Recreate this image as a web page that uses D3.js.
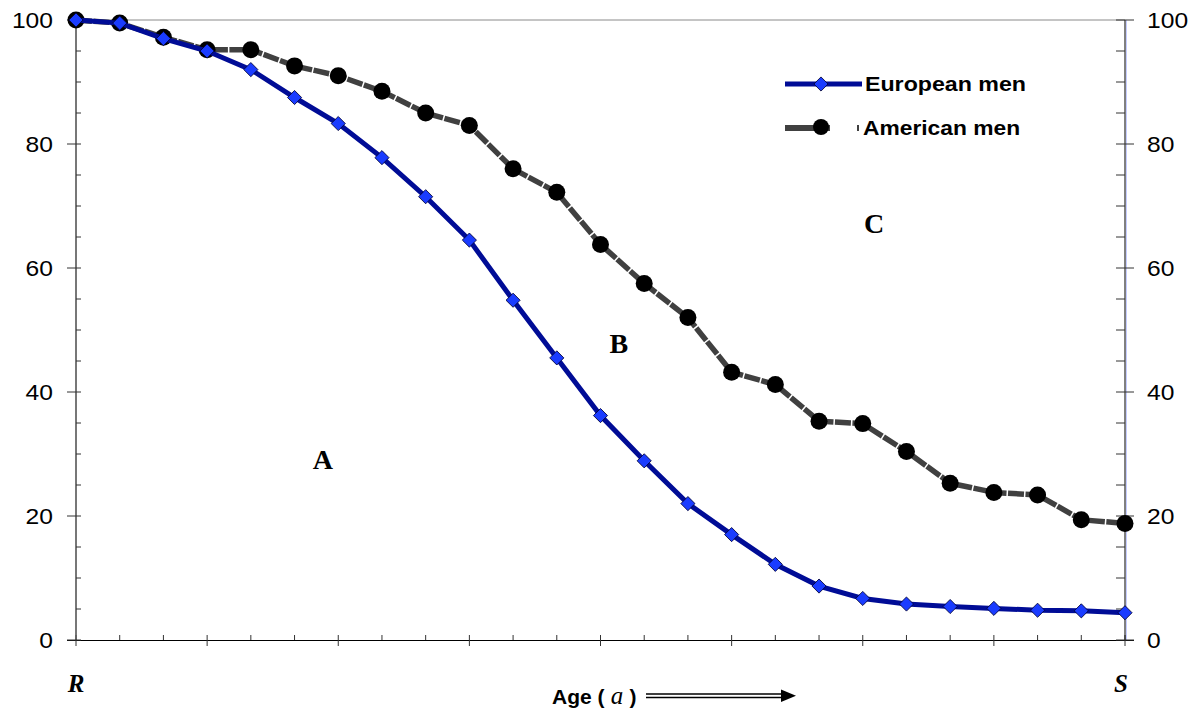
<!DOCTYPE html>
<html><head><meta charset="utf-8">
<script src="https://d3js.org/d3.v7.min.js"></script>
<style>body{margin:0;background:#fff}</style>
</head><body>
<script>
const ages = d3.range(25);
const european = [100,99.5,97,95,92,87.5,83.3,77.8,71.5,64.5,54.8,45.5,36.2,28.9,22,17,12.2,8.7,6.7,5.8,5.4,5.1,4.8,4.7,4.4];
const american = [100,99.5,97.2,95.2,95.2,92.6,91,88.5,85,83,76,72.2,63.8,57.5,52,43.2,41.2,35.3,34.9,30.4,25.3,23.8,23.4,19.4,18.8];
const yTicks = [0,20,40,60,80,100];
const seriesNames = ["European men","American men"];
const regionLabels = [{t:"A",x:5.65,y:27.6},{t:"B",x:12.42,y:46.3},{t:"C",x:18.26,y:65.6}];

const W=1202,H=715;
const svg=d3.select("body").append("svg").attr("width",W).attr("height",H);
const x=d3.scaleLinear().domain([0,24]).range([76,1125]);
const y=d3.scaleLinear().domain([0,100]).range([640,20]);
const SANS="Liberation Sans, Arial, sans-serif", SERIF="Liberation Serif, Times New Roman, serif";

function stext(px,py,str,opts){
  const t=svg.append("text").attr("transform",`translate(${px},${py}) scale(${opts.sx||1},1)`)
    .attr("font-family",opts.ff||SANS).attr("font-size",opts.fs||16)
    .attr("text-anchor",opts.anchor||"start").attr("fill","#000");
  if(opts.fw) t.attr("font-weight",opts.fw);
  if(opts.fst) t.attr("font-style",opts.fst);
  t.text(str);
  return t;
}

// top gridline
svg.append("line").attr("x1",x(0)).attr("x2",x(24)).attr("y1",y(100)).attr("y2",y(100)).attr("stroke","#8a8a8a").attr("stroke-width",1);

// right axis faint blue
svg.append("line").attr("x1",x(24)+1.5).attr("x2",x(24)+1.5).attr("y1",y(100)).attr("y2",y(0)).attr("stroke","#c4ccff").attr("stroke-width",1);

const ax=svg.append("g").attr("stroke","#000").attr("stroke-width",1);
// x axis
ax.append("line").attr("x1",x(0)-9).attr("x2",x(24)+9).attr("y1",y(0)+0.5).attr("y2",y(0)+0.5);
ages.forEach(i=>{
  const major=i%3===0;
  ax.append("line").attr("x1",x(i)).attr("x2",x(i)).attr("y1",y(0)-5).attr("y2",major?y(0)+6:y(0)).attr("stroke","#333");
});
// y axes
ax.append("line").attr("x1",x(0)).attr("x2",x(0)).attr("y1",y(100)).attr("y2",y(0)).attr("stroke","#555").attr("stroke-width",1.6);
ax.append("line").attr("x1",x(24)).attr("x2",x(24)).attr("y1",y(100)).attr("y2",y(0));
d3.range(0,101,5).forEach(v=>{
  const major=v%20===0;
  ax.append("line").attr("x1",major?x(0)-9:x(0)).attr("x2",x(0)+5).attr("y1",y(v)).attr("y2",y(v)).attr("stroke","#333");
  ax.append("line").attr("x1",x(24)-9).attr("x2",major?x(24)+9:x(24)).attr("y1",y(v)).attr("y2",y(v)).attr("stroke","#333");
});
yTicks.forEach(v=>{
  stext(53,y(v)+8,v,{fs:22,sx:1.12,anchor:"end"});
  stext(1147,y(v)+8,v,{fs:22,sx:1.12});
});

const line=d3.line().x((d,i)=>x(i)).y(d=>y(d));
// American
svg.append("path").datum(american).attr("d",line).attr("fill","none").attr("stroke","#404040").attr("stroke-width",5.5).attr("stroke-dasharray","16,1.5");
svg.selectAll(".am").data(american).enter().append("circle").attr("cx",(d,i)=>x(i)).attr("cy",d=>y(d)).attr("r",8.5).attr("fill","#000");
// European
svg.append("path").datum(european).attr("d",line).attr("fill","none").attr("stroke","#000c96").attr("stroke-width",5);
const dia=d3.symbol().type(d3.symbolSquare).size(100);
svg.selectAll(".eu").data(european).enter().append("path").attr("d",dia).attr("transform",(d,i)=>`translate(${x(i)},${y(d)}) rotate(45)`).attr("fill","#1a3cff").attr("stroke","#000033").attr("stroke-width",0.8);

// legend
svg.append("line").attr("x1",785).attr("x2",862).attr("y1",84).attr("y2",84).attr("stroke","#000c96").attr("stroke-width",5);
svg.append("path").attr("d",dia).attr("transform","translate(821,84) rotate(45)").attr("fill","#1a3cff").attr("stroke","#000033").attr("stroke-width",0.8);
stext(865,91,seriesNames[0],{fs:20,sx:1.16,fw:"bold"});
svg.append("line").attr("x1",785).attr("x2",830).attr("y1",128).attr("y2",128).attr("stroke","#404040").attr("stroke-width",6);
svg.append("circle").attr("cx",821).attr("cy",127).attr("r",8).attr("fill","#000");
svg.append("line").attr("x1",857).attr("x2",859).attr("y1",128).attr("y2",128).attr("stroke","#404040").attr("stroke-width",6);
stext(863,135,seriesNames[1],{fs:20,sx:1.14,fw:"bold"});

// region labels
regionLabels.forEach(r=>{
  stext(x(r.x),y(r.y),r.t,{ff:SERIF,fs:28,fw:"bold",anchor:"middle"});
});
// R and S
stext(x(0),692,"R",{ff:SERIF,fs:25,fw:"bold",fst:"italic",anchor:"middle"});
stext(x(24)-4,692,"S",{ff:SERIF,fs:25,fw:"bold",fst:"italic",anchor:"middle"});

// Age label
const t=svg.append("text").attr("x",552).attr("y",704).attr("font-family",SANS).attr("font-weight","bold").attr("font-size",21);
t.append("tspan").text("Age (");
t.append("tspan").attr("font-family",SERIF).attr("font-style","italic").attr("font-weight","normal").attr("font-size",25).text(" a ");
t.append("tspan").text(")");
// arrow
svg.append("line").attr("x1",646).attr("x2",784).attr("y1",694).attr("y2",694).attr("stroke","#000").attr("stroke-width",1.4);
svg.append("line").attr("x1",646).attr("x2",784).attr("y1",697.5).attr("y2",697.5).attr("stroke","#000").attr("stroke-width",1.4);
svg.append("path").attr("d","M781,689.5 L796,695.8 L781,702 Z").attr("fill","#000");
</script>
</body></html>
